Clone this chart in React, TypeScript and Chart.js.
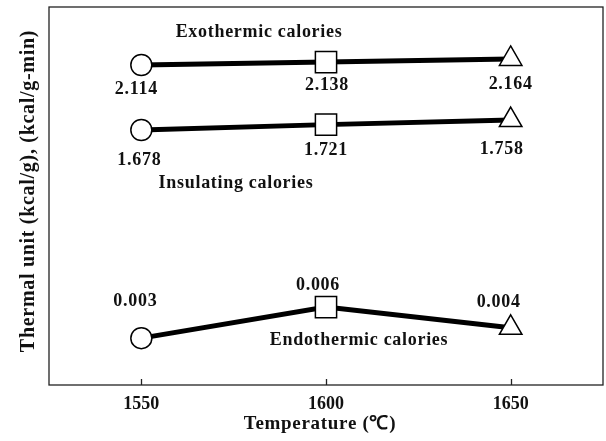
import React, { useEffect, useRef } from "react";
import { Chart, registerables } from "chart.js";

Chart.register(...registerables);

const temperatures = [1550, 1600, 1650];
const exothermic = [2.114, 2.138, 2.164];
const insulating = [1.678, 1.721, 1.758];
const endothermic = [0.003, 0.006, 0.004];
const xTicks = [1550, 1600, 1650];
const seriesNames = ["Exothermic calories", "Insulating calories", "Endothermic calories"];
const xTitle = "Temperature (\u2103)";
const yTitle = "Thermal unit (kcal/g), (kcal/g-min)";

const FONT = '"Liberation Serif", "Times New Roman", serif';
const INK = "#111";

// label offsets (px) relative to each marker
const labelDx = [
  [-5, 1, 0],
  [-2, 0, -9],
  [-6, -8, -12],
];
const labelDy = [
  [24, 23, 25],
  [30, 26, 29],
  [-37, -22, -25],
];
// series-name anchors relative to chart area (px)
const nameAnchors = [
  { dx: 210, dy: 25 },
  { dx: 187, dy: 176 },
  { dx: 310, dy: 333 },
];

const overlay = {
  id: "overlay",
  afterDatasetsDraw(chart: any) {
    const ctx = chart.ctx as CanvasRenderingContext2D;
    const a = chart.chartArea;
    ctx.save();
    // frame
    ctx.strokeStyle = "#222";
    ctx.lineWidth = 1.3;
    ctx.strokeRect(a.left, a.top, a.right - a.left, a.bottom - a.top);
    // inward ticks
    const xs = chart.scales.x;
    ctx.lineWidth = 1.3;
    xTicks.forEach((v) => {
      const px = Math.round(xs.getPixelForValue(v)) + 0.5;
      ctx.beginPath();
      ctx.moveTo(px, a.bottom);
      ctx.lineTo(px, a.bottom - 6);
      ctx.stroke();
    });
    // value labels
    ctx.fillStyle = INK;
    (ctx as any).letterSpacing = "0.7px";
    ctx.font = `bold 18px ${FONT}`;
    ctx.textAlign = "center";
    ctx.textBaseline = "middle";
    chart.data.datasets.forEach((ds: any, di: number) => {
      const meta = chart.getDatasetMeta(di);
      meta.data.forEach((el: any, i: number) => {
        const v = ds.data[i].y as number;
        ctx.fillText(v.toFixed(3), el.x + labelDx[di][i], el.y + labelDy[di][i]);
      });
    });
    // series names
    seriesNames.forEach((n, i) => {
      ctx.fillText(n, a.left + nameAnchors[i].dx, a.top + nameAnchors[i].dy);
    });
    // axis titles
    ctx.font = `bold 19px ${FONT}`;
    ctx.fillText(xTitle, (a.left + a.right) / 2 - 6, a.bottom + 39);
    ctx.save();
    ctx.translate(29, (a.top + a.bottom) / 2 - 5);
    ctx.rotate(-Math.PI / 2);
    ctx.font = `bold 20px ${FONT}`;
    ctx.fillText(yTitle, 0, 0);
    ctx.restore();
    (ctx as any).letterSpacing = "0px";
    ctx.restore();
  },
};

function makeDataset(label: string, values: number[], axis: string) {
  return {
    label,
    data: temperatures.map((t, i) => ({ x: t, y: values[i] })),
    yAxisID: axis,
    borderColor: "#000",
    borderWidth: 5,
    pointStyle: ["circle", "rect", "triangle"],
    pointRadius: [10.5, 15, 13],
    pointHoverRadius: [10.5, 15, 13],
    pointBackgroundColor: "#fff",
    pointBorderColor: "#000",
    pointBorderWidth: 1.5,
    tension: 0,
    fill: false,
    clip: false,
  };
}

export default function App() {
  const ref = useRef<HTMLCanvasElement | null>(null);
  useEffect(() => {
    if (!ref.current) return;
    const chart = new Chart(ref.current, {
      type: "line",
      data: {
        datasets: [
          makeDataset(seriesNames[0], exothermic, "yExo"),
          makeDataset(seriesNames[1], insulating, "yIns"),
          makeDataset(seriesNames[2], endothermic, "yEndo"),
        ] as any,
      },
      options: {
        responsive: false,
        animation: false,
        events: [],
        layout: { autoPadding: false, padding: { left: 49, top: 7, right: 3, bottom: 0 } },
        plugins: {
          legend: { display: false },
          tooltip: { enabled: false },
          title: { display: false },
        },
        scales: {
          x: {
            type: "linear",
            min: 1525,
            max: 1675,
            afterBuildTicks: (s: any) => {
              s.ticks = xTicks.map((v) => ({ value: v }));
            },
            afterFit: (s: any) => {
              s.height = 56;
            },
            ticks: {
              color: INK,
              font: { family: FONT, size: 18, weight: "bold" },
              padding: 9,
              maxRotation: 0,
              callback: (v: any) => String(v),
            },
            grid: { display: false, drawTicks: false },
            border: { display: false },
          },
          yExo: { type: "linear", display: false, min: -0.5527, max: 2.5973 },
          yIns: { type: "linear", display: false, min: -0.362, max: 2.662 },
          yEndo: { type: "linear", display: false, min: -0.001525, max: 0.034972 },
        },
      } as any,
      plugins: [overlay],
    });
    return () => chart.destroy();
  }, []);
  return (
    <div style={{ position: "fixed", left: 0, top: 0, width: 606, height: 441, background: "#fff" }}>
      <canvas ref={ref} width={606} height={441} style={{ display: "block" }} />
    </div>
  );
}
